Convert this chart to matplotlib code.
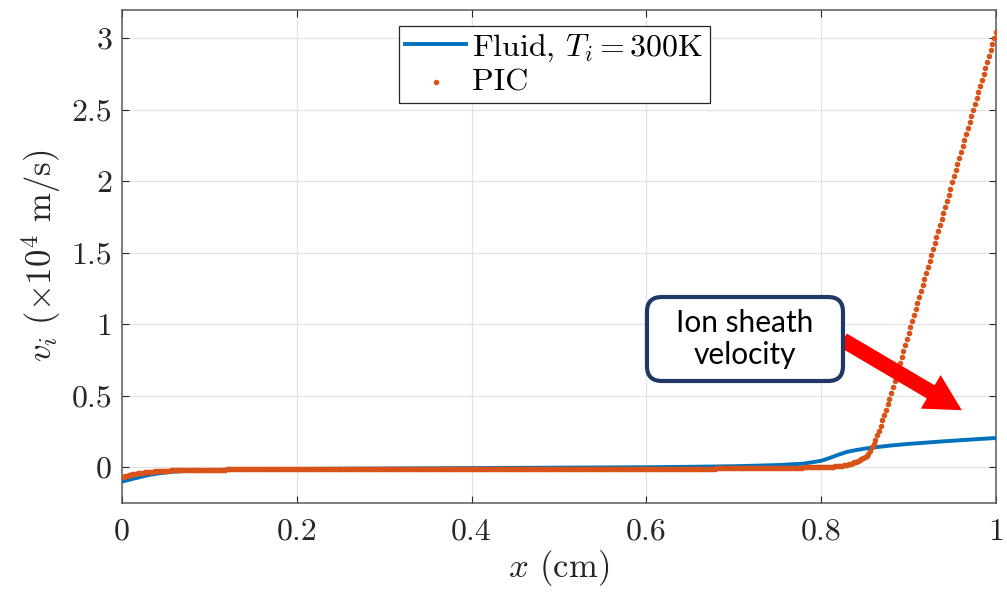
import numpy as np
import matplotlib
matplotlib.use("Agg")
import matplotlib.pyplot as plt
from matplotlib.patches import FancyBboxPatch

# Fuentes tipo LaTeX (Computer Modern)
plt.rcParams['font.family'] = 'serif'
plt.rcParams['font.serif'] = ['cmr10']
plt.rcParams['mathtext.fontset'] = 'cm'
plt.rcParams['axes.formatter.use_mathtext'] = True
plt.rcParams['axes.unicode_minus'] = False

# Datos del fluido (x en cm, v_i en 1e4 m/s)
fluid_x = [0.0, 0.01, 0.02, 0.03, 0.04, 0.05, 0.06, 0.08, 0.1, 0.15, 0.2, 0.3, 0.4, 0.5,
           0.6, 0.65, 0.7, 0.72, 0.75, 0.78, 0.8, 0.81, 0.82, 0.83, 0.84, 0.85, 0.86,
           0.88, 0.9, 0.92, 0.94, 0.96, 0.98, 1.0]
fluid_v = [-0.100, -0.085, -0.070, -0.055, -0.045, -0.037, -0.031, -0.024, -0.020, -0.015,
           -0.012, -0.009, -0.006, -0.003, 0.000, 0.003, 0.007, 0.010, 0.015, 0.025,
           0.045, 0.065, 0.088, 0.108, 0.120, 0.130, 0.138, 0.152, 0.163, 0.172,
           0.181, 0.189, 0.197, 0.204]

# Datos PIC en la malla de 501 nodos (dx = 0.002 cm)
pic_x = np.linspace(0, 1, 501)
pic_v = [
    -0.070, -0.066, -0.062, -0.058, -0.055, -0.052, -0.049, -0.047, -0.045, -0.043,
    -0.041, -0.039, -0.037, -0.035, -0.034, -0.033, -0.032, -0.031, -0.030, -0.029,
    -0.028, -0.027, -0.026, -0.025, -0.025, -0.024, -0.023, -0.023, -0.022, -0.022,
    -0.021, -0.021, -0.020, -0.020, -0.020, -0.019, -0.019, -0.019, -0.018, -0.018,
    -0.018, -0.018, -0.017, -0.017, -0.017, -0.017, -0.016, -0.016, -0.016, -0.016,
    -0.016, -0.016, -0.016, -0.016, -0.016, -0.016, -0.016, -0.016, -0.016, -0.016,
    -0.015, -0.015, -0.015, -0.015, -0.015, -0.015, -0.015, -0.015, -0.015, -0.015,
    -0.015, -0.015, -0.015, -0.015, -0.015, -0.015, -0.015, -0.015, -0.015, -0.015,
    -0.014, -0.014, -0.014, -0.014, -0.014, -0.014, -0.014, -0.014, -0.014, -0.014,
    -0.014, -0.014, -0.014, -0.014, -0.014, -0.013, -0.013, -0.013, -0.013, -0.013,
    -0.013, -0.013, -0.013, -0.013, -0.013, -0.013, -0.013, -0.013, -0.013, -0.013,
    -0.013, -0.013, -0.013, -0.013, -0.013, -0.013, -0.013, -0.013, -0.013, -0.013,
    -0.013, -0.013, -0.013, -0.013, -0.013, -0.013, -0.013, -0.013, -0.013, -0.013,
    -0.012, -0.012, -0.012, -0.012, -0.012, -0.012, -0.012, -0.012, -0.012, -0.012,
    -0.012, -0.012, -0.012, -0.012, -0.012, -0.012, -0.012, -0.012, -0.012, -0.012,
    -0.012, -0.012, -0.012, -0.012, -0.012, -0.012, -0.012, -0.012, -0.012, -0.012,
    -0.012, -0.012, -0.012, -0.012, -0.012, -0.012, -0.012, -0.012, -0.012, -0.012,
    -0.012, -0.012, -0.012, -0.012, -0.012, -0.012, -0.012, -0.012, -0.012, -0.012,
    -0.012, -0.012, -0.012, -0.012, -0.012, -0.012, -0.012, -0.012, -0.012, -0.012,
    -0.012, -0.012, -0.012, -0.012, -0.012, -0.012, -0.012, -0.012, -0.012, -0.012,
    -0.012, -0.012, -0.012, -0.012, -0.012, -0.012, -0.012, -0.012, -0.012, -0.012,
    -0.012, -0.012, -0.012, -0.012, -0.012, -0.012, -0.012, -0.012, -0.012, -0.012,
    -0.012, -0.012, -0.012, -0.012, -0.012, -0.012, -0.012, -0.012, -0.012, -0.012,
    -0.012, -0.012, -0.012, -0.012, -0.012, -0.012, -0.012, -0.012, -0.012, -0.012,
    -0.012, -0.012, -0.012, -0.012, -0.012, -0.012, -0.012, -0.012, -0.012, -0.012,
    -0.011, -0.011, -0.011, -0.011, -0.011, -0.011, -0.011, -0.011, -0.011, -0.011,
    -0.011, -0.011, -0.011, -0.011, -0.011, -0.011, -0.011, -0.011, -0.011, -0.011,
    -0.011, -0.011, -0.011, -0.011, -0.011, -0.011, -0.011, -0.011, -0.011, -0.011,
    -0.011, -0.011, -0.011, -0.011, -0.011, -0.011, -0.011, -0.011, -0.011, -0.011,
    -0.011, -0.011, -0.011, -0.011, -0.011, -0.011, -0.011, -0.011, -0.011, -0.011,
    -0.011, -0.011, -0.011, -0.011, -0.011, -0.011, -0.011, -0.011, -0.011, -0.011,
    -0.011, -0.011, -0.011, -0.011, -0.011, -0.011, -0.011, -0.011, -0.011, -0.011,
    -0.010, -0.010, -0.010, -0.010, -0.010, -0.010, -0.010, -0.010, -0.010, -0.010,
    -0.009, -0.009, -0.009, -0.009, -0.009, -0.009, -0.009, -0.009, -0.009, -0.009,
    -0.008, -0.008, -0.008, -0.008, -0.008, -0.008, -0.008, -0.008, -0.008, -0.008,
    -0.007, -0.007, -0.007, -0.007, -0.007, -0.007, -0.007, -0.007, -0.007, -0.007,
    -0.006, -0.006, -0.006, -0.006, -0.006, -0.006, -0.006, -0.006, -0.005, -0.005,
    -0.005, -0.005, -0.005, -0.005, -0.004, -0.004, -0.004, -0.004, -0.004, -0.004,
    -0.003, -0.003, -0.003, -0.003, -0.003, -0.002, -0.002, -0.002, -0.002, -0.002,
    -0.001, -0.001, -0.001, -0.001, -0.001, 0.000, 0.000, 0.000, 0.000, 0.000,
    0.000,
    0.001, 0.001, 0.002, 0.002, 0.003, 0.004, 0.005, 0.006, 0.007, 0.008,
    0.010, 0.012, 0.014, 0.016, 0.019, 0.022, 0.026, 0.030, 0.034, 0.038,
    0.043, 0.048, 0.054, 0.061, 0.069, 0.080, 0.095, 0.115, 0.140, 0.165,
    0.192, 0.223, 0.256, 0.291, 0.327, 0.364, 0.401, 0.439, 0.478,
    0.517, 0.559, 0.601, 0.643, 0.685, 0.728, 0.770, 0.812, 0.854, 0.896,
    0.938, 0.980, 1.022, 1.064, 1.106, 1.149, 1.191, 1.233, 1.275, 1.317,
    1.359, 1.401, 1.443, 1.485, 1.527, 1.570, 1.612, 1.654, 1.696, 1.738,
    1.780, 1.822, 1.864, 1.906, 1.948, 1.991, 2.033, 2.075, 2.117, 2.159,
    2.201, 2.243, 2.285, 2.327, 2.369, 2.412, 2.454, 2.496, 2.538, 2.580,
    2.622, 2.664, 2.706, 2.748, 2.790, 2.833, 2.875, 2.917, 2.959, 3.001,
    3.043,
]

# Ticks y etiquetas
xticks = [0, 0.2, 0.4, 0.6, 0.8, 1.0]
xtick_labels = ['0', '0.2', '0.4', '0.6', '0.8', '1']
yticks = [0, 0.5, 1, 1.5, 2, 2.5, 3]
ytick_labels = ['0', '0.5', '1', '1.5', '2', '2.5', '3']

fig = plt.figure(figsize=(10.07, 5.99), dpi=100)
ax = fig.add_axes([0.1211, 0.1603, 0.8679, 0.8238])

ax.plot(fluid_x, fluid_v, color='#0072BD', lw=2.8, label=r'Fluid, $T_i = 300$K', zorder=3)
ax.scatter(pic_x, pic_v, s=16, marker='o', linewidths=0, color='#D95319',
           label='PIC', zorder=4)

ax.set_xlim(0, 1)
ax.set_ylim(-0.25, 3.2)
ax.set_xticks(xticks)
ax.set_xticklabels(xtick_labels)
ax.set_yticks(yticks)
ax.set_yticklabels(ytick_labels)
ax.tick_params(direction='in', length=5, width=0.8, top=True, right=True,
               labelsize=23, colors='#262626', labelcolor='#262626')
ax.tick_params(axis='x', pad=11)
ax.tick_params(axis='y', pad=7)
ax.grid(True, color='#e3e3e3', lw=0.9)
ax.set_axisbelow(True)
for s in ax.spines.values():
    s.set_color('#5a5a5a')
    s.set_linewidth(1.1)

ax.set_xlabel(r'$x$ (cm)', fontsize=25, color='#262626', labelpad=2)
ax.set_ylabel(r'$v_i\ (\times 10^4$ m/s)', fontsize=25, color='#262626', labelpad=6)

leg = ax.legend(loc='upper left', bbox_to_anchor=(0.317, 0.9666), borderaxespad=0,
                fontsize=23, handlelength=1.9, handletextpad=0.2, borderpad=0.2,
                labelspacing=0.15, scatterpoints=1, fancybox=False, framealpha=1)
leg.get_frame().set_edgecolor('#262626')
leg.get_frame().set_linewidth(0.9)

# Recuadro de anotacion
box = FancyBboxPatch((0.6007, 0.2472), 0.2243, 0.1702, transform=ax.transAxes,
                     boxstyle='round,pad=0,rounding_size=0.017', mutation_aspect=1.77,
                     fc='white', ec='#1F3864', lw=3, zorder=6, clip_on=False)
ax.add_patch(box)
ax.text(0.7128, 0.3323, 'Ion sheath\nvelocity', transform=ax.transAxes, ha='center',
        va='center', fontsize=21.5, family='Lato', linespacing=1.15, zorder=7)

# Flecha roja
ax.annotate('', xy=(0.961, 0.188), xytext=(0.825, 0.330), xycoords='axes fraction',
            arrowprops=dict(arrowstyle='simple,head_width=1.4,head_length=1.3,tail_width=0.55',
                            mutation_scale=20, color='#FF0000', lw=0, shrinkA=0, shrinkB=0),
            zorder=5)

plt.savefig('out.png', dpi=100)
